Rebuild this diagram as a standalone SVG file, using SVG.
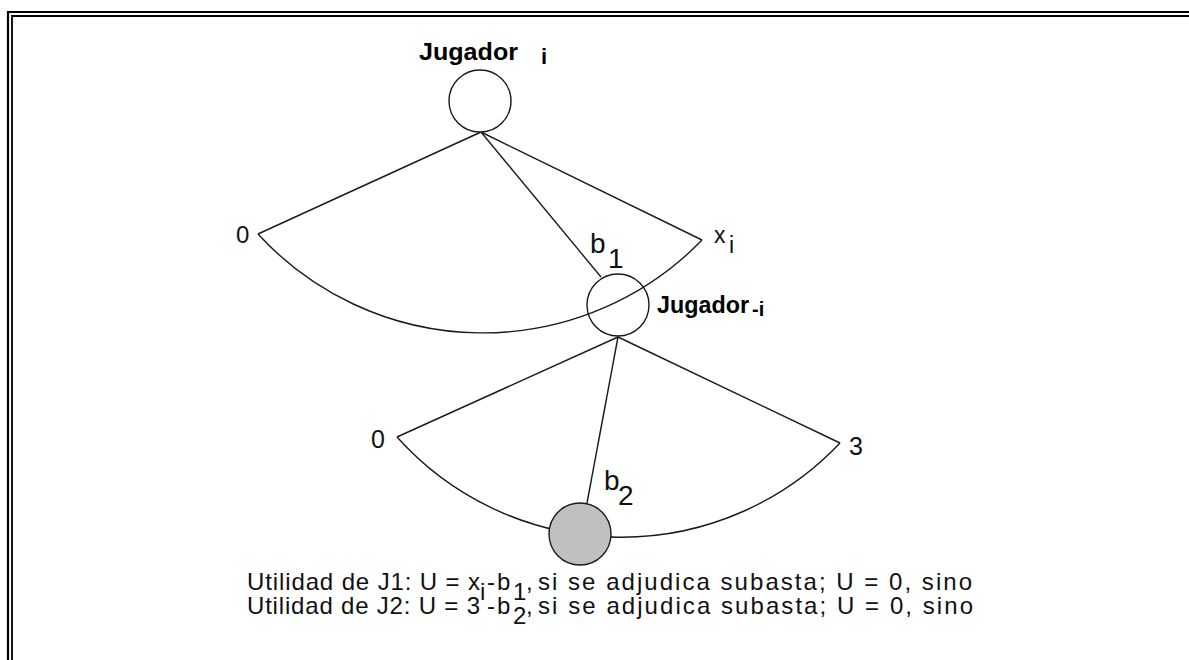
<svg xmlns="http://www.w3.org/2000/svg" width="1189" height="660" viewBox="0 0 1189 660">
<style>
.ln{fill:none;stroke:#1a1a1a;stroke-width:1.4}
.nd{stroke:#1a1a1a;stroke-width:1.4}
.lb{font-family:"Liberation Sans",Arial,sans-serif;font-weight:bold;fill:#000}
.tx{font-family:"Liberation Sans",Arial,sans-serif;fill:#111}
.bd{fill:none;stroke:#000}
</style>
<rect width="1189" height="660" fill="#fff"/>
<g id="border">
<path class="bd" stroke-width="2.2" d="M8,660 V12 H1189"/>
<path class="bd" stroke-width="1.8" d="M12,660 V16 H1189"/>
</g>
<g id="connectors">
<path class="ln" d="M481,132 L258,234"/>
<path class="ln" d="M481,132 L702,240"/>
<path class="ln" d="M481,132 L601,277"/>
<path class="ln" d="M258,234 A305,305 0 0 0 702,240"/>
<path class="ln" d="M618,337 L397,437"/>
<path class="ln" d="M618,337 L840,443"/>
<path class="ln" d="M618,337 L587,503"/>
<path class="ln" d="M397,437 A301,301 0 0 0 840,443"/>
</g>
<g id="node-jugador-i">
<circle class="nd" cx="480" cy="101" r="31" fill="#fff"/>
<text class="lb" x="419" y="60" style="font-size:24px" textLength="99" lengthAdjust="spacingAndGlyphs">Jugador</text>
<text class="lb" x="541" y="64" style="font-size:22px">i</text>
</g>
<g id="node-jugador-minus-i">
<circle class="nd" cx="618" cy="305" r="31" fill="none"/>
<text class="lb" x="657" y="313" style="font-size:24px" textLength="92" lengthAdjust="spacingAndGlyphs">Jugador</text>
<text class="lb" x="752" y="316" style="font-size:20px">-i</text>
</g>
<g id="node-terminal">
<circle class="nd" cx="580" cy="534" r="31" fill="#c0c0c0"/>
</g>
<g id="labels">
<text class="tx" x="236" y="243" style="font-size:24px">0</text>
<text class="tx" x="714" y="243" style="font-size:23px">x</text>
<text class="tx" x="729" y="253" style="font-size:23px">i</text>
<text class="tx" x="590" y="253" style="font-size:28px">b</text>
<text class="tx" x="608" y="268" style="font-size:28px">1</text>
<text class="tx" x="371" y="448" style="font-size:25px">0</text>
<text class="tx" x="849" y="455" style="font-size:25px">3</text>
<text class="tx" x="604" y="490" style="font-size:28px">b</text>
<text class="tx" x="618" y="505" style="font-size:28px">2</text>
</g>
<g id="utility-text" style="font-size:24px">
<text class="tx" x="247" y="590" textLength="233" lengthAdjust="spacing">Utilidad de J1: U = x</text>
<text class="tx" x="480" y="600">i</text>
<text class="tx" x="487" y="590">-</text>
<text class="tx" x="497" y="590">b</text>
<text class="tx" x="513" y="600">1</text>
<text class="tx" x="526" y="590">,</text>
<text class="tx" x="538" y="590" textLength="434" lengthAdjust="spacing">si se adjudica subasta; U = 0, sino</text>
<text class="tx" x="247" y="614" textLength="233" lengthAdjust="spacing">Utilidad de J2: U = 3</text>
<text class="tx" x="487" y="614">-</text>
<text class="tx" x="497" y="614">b</text>
<text class="tx" x="513" y="624">2</text>
<text class="tx" x="526" y="614">,</text>
<text class="tx" x="538" y="614" textLength="435" lengthAdjust="spacing">si se adjudica subasta; U = 0, sino</text>
</g>
</svg>
